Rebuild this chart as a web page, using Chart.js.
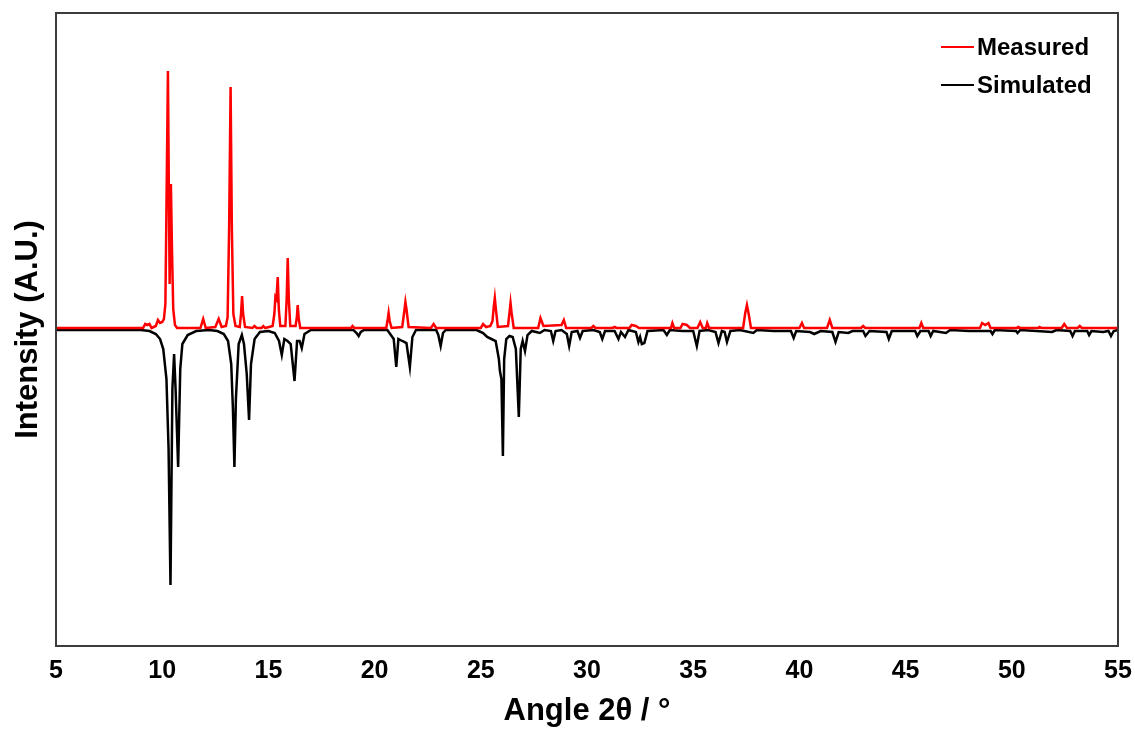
<!DOCTYPE html>
<html>
<head>
<meta charset="utf-8">
<script src="https://cdn.jsdelivr.net/npm/chart.js@4.4.1/dist/chart.umd.min.js"></script>
<style>
  html, body { margin: 0; padding: 0; background: #fff; }
  #wrap { width: 1135px; height: 731px; }
</style>
</head>
<body>
<div id="wrap"><canvas id="xrd"></canvas></div>
<script>
// measured pattern (2theta, intensity, arbitrary units)
var measuredAngle = [
  5.0, 9.1, 9.2, 9.3, 9.4, 9.5, 9.7, 9.8, 9.9, 10.0, 10.08, 10.15, 10.2, 10.27, 10.32, 10.35, 10.41, 10.46, 10.52, 10.6, 10.7,
  11.8, 11.93, 12.05, 12.5, 12.66, 12.8, 13.0, 13.08, 13.15, 13.22, 13.28, 13.35, 13.45,
  13.65, 13.71, 13.76, 13.81, 13.9, 14.25, 14.34, 14.45, 14.68, 14.76, 14.85,
  15.2, 15.28, 15.33, 15.38, 15.44, 15.49, 15.56, 15.8, 15.86, 15.91, 15.96, 16.03,
  16.28, 16.34, 16.38, 16.43, 16.5,
  18.9, 18.96, 19.05, 20.55, 20.62, 20.66, 20.71, 20.8, 21.3, 21.4, 21.45, 21.5, 21.6, 22.65, 22.78, 22.9,
  25.0, 25.11, 25.25, 25.45, 25.55, 25.61, 25.66, 25.71, 25.8, 26.28, 26.35, 26.4, 26.45, 26.55,
  27.7, 27.81, 27.95, 28.8, 28.91, 29.02,
  30.2, 30.3, 30.4, 31.2, 31.3, 31.4, 32.0, 32.1, 32.3, 32.45, 33.95, 34.02, 34.1, 34.4, 34.5, 34.7, 34.85,
  35.2, 35.33, 35.45, 35.6, 35.66, 35.75, 37.35, 37.45, 37.53, 37.62, 37.72, 40.0, 40.12, 40.22,
  41.3, 41.43, 41.55, 42.9, 43.0, 43.1, 45.65, 45.74, 45.83, 48.5, 48.6, 48.75, 48.9, 49.0, 50.25, 50.3, 50.4,
  51.25, 51.3, 51.4, 52.35, 52.47, 52.6, 53.1, 53.2, 53.3, 55.0
];
var measuredIntensity = [
  1, 1, 5, 4, 5, 1, 3, 9, 6, 7, 10, 25, 120, 258, 120, 45, 145, 80, 20, 4, 1,
  1, 10, 1, 2, 10, 2, 3, 12, 100, 242, 100, 15, 3,
  2, 15, 33, 15, 2, 1, 3, 1, 1, 3, 1,
  3, 15, 32, 30, 52, 20, 3, 3, 30, 71, 30, 3,
  3, 12, 24, 10, 1,
  1, 3, 1, 1, 10, 16, 8, 1, 2, 18, 27, 20, 2, 1, 5, 1,
  1, 5, 2, 3, 8, 22, 31, 20, 2, 3, 16, 26, 16, 1,
  1, 11, 3, 4, 9, 1,
  1, 3, 1, 1, 2, 1, 1, 4, 3, 1, 1, 6, 1, 1, 5, 4, 1,
  1, 7, 1, 1, 6, 1, 1, 16, 24, 14, 1, 1, 6, 1,
  1, 9, 1, 1, 3, 1, 1, 6, 1, 1, 6, 4, 6, 1, 1, 2, 1,
  1, 2, 1, 1, 5, 1, 1, 3, 1, 1
];

// simulated pattern, plotted downwards
var simulatedAngle = [
  5.0, 9.0, 9.4, 9.7, 9.9, 10.05, 10.2, 10.3, 10.39, 10.48, 10.56, 10.63, 10.75, 10.85, 10.95, 11.2, 11.6, 12.2,
  12.6, 12.9, 13.1, 13.25, 13.33, 13.4, 13.47, 13.6, 13.75, 13.85, 13.98, 14.09, 14.18, 14.35, 14.6, 15.0,
  15.3, 15.5, 15.63, 15.75, 15.9, 16.05, 16.23, 16.35, 16.47, 16.57, 16.7, 17.0,
  19.0, 19.15, 19.25, 19.35, 19.5,
  20.6, 20.9, 21.02, 21.12, 21.3, 21.5, 21.66, 21.78, 21.95,
  22.9, 23.0, 23.11, 23.22, 23.35,
  24.8, 25.0, 25.11, 25.3, 25.5, 25.7, 25.85, 25.9, 25.97, 26.04, 26.1, 26.2, 26.35, 26.5, 26.65, 26.79, 26.88, 26.97, 27.08, 27.2, 27.4,
  27.78, 28.0, 28.3, 28.41, 28.52, 28.8, 29.05, 29.16, 29.28, 29.55, 29.67, 29.8, 30.3, 30.6, 30.72, 30.85,
  31.3, 31.48, 31.6, 31.79, 31.95, 32.3, 32.42, 32.5, 32.58, 32.7, 32.85, 33.6, 33.76, 33.9, 34.5, 35.0, 35.17, 35.3,
  35.7, 36.05, 36.19, 36.35, 36.48, 36.59, 36.75, 37.2, 37.83, 38.0, 38.8, 39.6, 39.73, 39.85,
  40.5, 40.7, 41.0, 41.55, 41.7, 41.85, 42.3, 42.5, 43.0, 43.11, 43.3, 44.1, 44.21, 44.35, 44.8,
  45.45, 45.55, 45.7, 46.08, 46.18, 46.3, 46.9, 47.1, 48.0, 49.0, 49.09, 49.2, 50.2, 50.27, 50.4,
  51.9, 52.1, 52.75, 52.86, 52.97, 53.55, 53.64, 53.75, 54.3, 54.55, 54.67, 54.8, 55.0
];
var simulatedIntensity = [
  -1, -1, -2, -5, -10, -20, -50, -120, -256, -60, -25, -60, -138, -40, -15, -6, -2, -1,
  -2, -5, -12, -35, -80, -138, -70, -15, -6, -15, -45, -91, -35, -10, -3, -2,
  -4, -12, -26, -10, -12, -15, -52, -12, -12, -19, -5, -1,
  -1, -4, -7, -3, -1,
  -1, -10, -38, -10, -12, -14, -38, -8, -1,
  -1, -6, -17, -4, -1,
  -1, -3, -4, -8, -10, -12, -30, -42, -50, -127, -30, -10, -7, -8, -20, -88, -20, -12, -22, -6, -2,
  -4, -1, -2, -12, -2, -1, -5, -17, -3, -2, -9, -2, -1, -3, -10, -2,
  -2, -10, -3, -8, -1, -3, -13, -8, -15, -14, -2, -1, -6, -1, -2, -2, -17, -2,
  -1, -3, -14, -2, -3, -13, -2, -1, -4, -1, -2, -2, -9, -2,
  -3, -5, -2, -3, -13, -3, -4, -2, -2, -7, -2, -3, -10, -2, -2,
  -2, -7, -2, -2, -7, -2, -4, -1, -2, -2, -5, -1, -2, -4, -1,
  -3, -1, -2, -7, -2, -2, -6, -2, -3, -2, -7, -2, -1
];

function pairs(xs, ys) {
  return xs.map(function (x, i) { return { x: x, y: ys[i] }; });
}

var FONT = '"Liberation Sans", Arial, sans-serif';

// box around the plot area
var frame = {
  id: 'frame',
  afterDraw: function (chart) {
    var a = chart.chartArea, ctx = chart.ctx;
    ctx.save();
    ctx.strokeStyle = '#3c3c3c';
    ctx.lineWidth = 2;
    ctx.strokeRect(a.left, a.top, a.right - a.left, a.bottom - a.top);
    ctx.restore();
  }
};

// legend in the upper right corner, stacked
var insideLegend = {
  id: 'insideLegend',
  afterDraw: function (chart) {
    var ctx = chart.ctx;
    ctx.save();
    ctx.font = 'bold 24px ' + FONT;
    ctx.textBaseline = 'middle';
    chart.data.datasets.forEach(function (ds, i) {
      var y = 47 + i * 38;
      ctx.strokeStyle = ds.borderColor;
      ctx.lineWidth = 2;
      ctx.beginPath();
      ctx.moveTo(941, y);
      ctx.lineTo(974, y);
      ctx.stroke();
      ctx.fillStyle = '#000';
      ctx.fillText(ds.label, 977, y + 1);
    });
    ctx.restore();
  }
};

new Chart(document.getElementById('xrd'), {
  type: 'line',
  data: {
    datasets: [
      {
        label: 'Measured',
        data: pairs(measuredAngle, measuredIntensity),
        borderColor: '#ff0000',
        borderWidth: 2.5,
        pointRadius: 0,
        tension: 0,
        fill: false
      },
      {
        label: 'Simulated',
        data: pairs(simulatedAngle, simulatedIntensity),
        borderColor: '#000000',
        borderWidth: 2.5,
        pointRadius: 0,
        tension: 0,
        fill: false
      }
    ]
  },
  options: {
    responsive: true,
    maintainAspectRatio: false,
    animation: false,
    layout: { padding: { top: 13, right: 17, left: 0, bottom: 0 } },
    plugins: {
      legend: { display: false },
      tooltip: { enabled: false }
    },
    scales: {
      x: {
        type: 'linear',
        min: 5,
        max: 55,
        grid: { display: false, drawTicks: false },
        border: { display: false },
        ticks: {
          stepSize: 5,
          padding: 10,
          maxRotation: 0,
          color: '#000',
          font: { family: FONT, size: 25, weight: 'bold' }
        },
        title: {
          display: true,
          text: 'Angle 2θ / °',
          color: '#000',
          padding: { top: 0, bottom: 1 },
          font: { family: FONT, size: 31, weight: 'bold' }
        },
        afterFit: function (s) {
          s.height = 85;
          s.paddingLeft = 0;
          s.paddingRight = 0;
        }
      },
      y: {
        min: -317,
        max: 316,
        grid: { display: false, drawTicks: false },
        border: { display: false },
        ticks: { display: false },
        title: {
          display: true,
          text: 'Intensity (A.U.)',
          color: '#000',
          padding: { top: 10, bottom: 0 },
          font: { family: FONT, size: 31, weight: 'bold' }
        },
        afterFit: function (s) { s.width = 56; }
      }
    }
  },
  plugins: [frame, insideLegend]
});
</script>
</body>
</html>
